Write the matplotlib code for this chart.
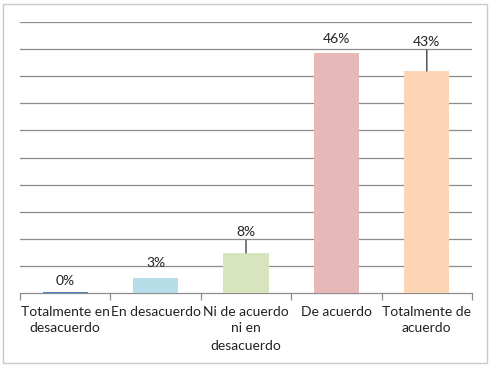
import numpy as np
import matplotlib
matplotlib.use("Agg")
import matplotlib.pyplot as plt
from matplotlib.patches import Rectangle

categories = ["Totalmente en\ndesacuerdo", "En desacuerdo", "Ni de acuerdo\nni en\ndesacuerdo",
              "De acuerdo", "Totalmente de\nacuerdo"]
values = [0.2, 2.9, 7.7, 46.0, 42.6]
value_labels = ["0%", "3%", "8%", "46%", "43%"]
colors = ["#4f81bd", "#b7dee8", "#d7e4bd", "#e6b9b8", "#fcd5b5"]

# label offsets above the bar top (points); leader line where needed
label_offsets = [8, 11, 15, 10, 21]
leaders = [False, False, True, False, True]

plt.rcParams['font.family'] = ['Lato', 'DejaVu Sans']

fig = plt.figure(figsize=(4.92, 3.67), dpi=100)
ax = fig.add_axes([20 / 492, 1 - 293 / 367, 452 / 492, 271 / 367])

x = np.arange(len(categories))
ax.bar(x, values, width=0.5, color=colors, zorder=3)

ymax = 52.0
ax.set_ylim(0, ymax)
ax.set_xlim(-0.5, len(categories) - 0.5)
for g in np.linspace(0, ymax, 11)[1:]:
    ax.axhline(g, color="#8c8c8c", lw=0.9, zorder=1)

for i, v in enumerate(values):
    off = label_offsets[i]
    ax.annotate(value_labels[i], (x[i], v), xytext=(0, off), textcoords="offset points",
                ha="center", va="center", fontsize=10, color="#222222", zorder=4)
    if leaders[i]:
        ax.annotate("", (x[i], v), xytext=(0, off - 6), textcoords="offset points",
                    arrowprops=dict(arrowstyle="-", color="#444444", lw=1.0, shrinkA=0, shrinkB=0))

ax.set_yticks([])
ax.set_xticks(np.arange(len(categories) + 1) - 0.5, minor=False)
ax.set_xticklabels([])
ax.tick_params(axis="x", which="major", direction="out", length=5, color="#8c8c8c", width=0.9)
ax.set_xticks(x, minor=True)
ax.set_xticklabels(categories, minor=True, fontsize=10, color="#222222", linespacing=1.5)
ax.tick_params(axis="x", which="minor", length=0, pad=9)

for s in ["top", "right", "left"]:
    ax.spines[s].set_visible(False)
ax.spines["bottom"].set_color("#8c8c8c")
ax.spines["bottom"].set_linewidth(0.9)

fig.patches.append(Rectangle((3 / 492, 4 / 367), 484 / 492, 359 / 367, transform=fig.transFigure,
                             fill=False, edgecolor="#c8c8c8", lw=1.0))

fig.savefig("out.png", dpi=100)
